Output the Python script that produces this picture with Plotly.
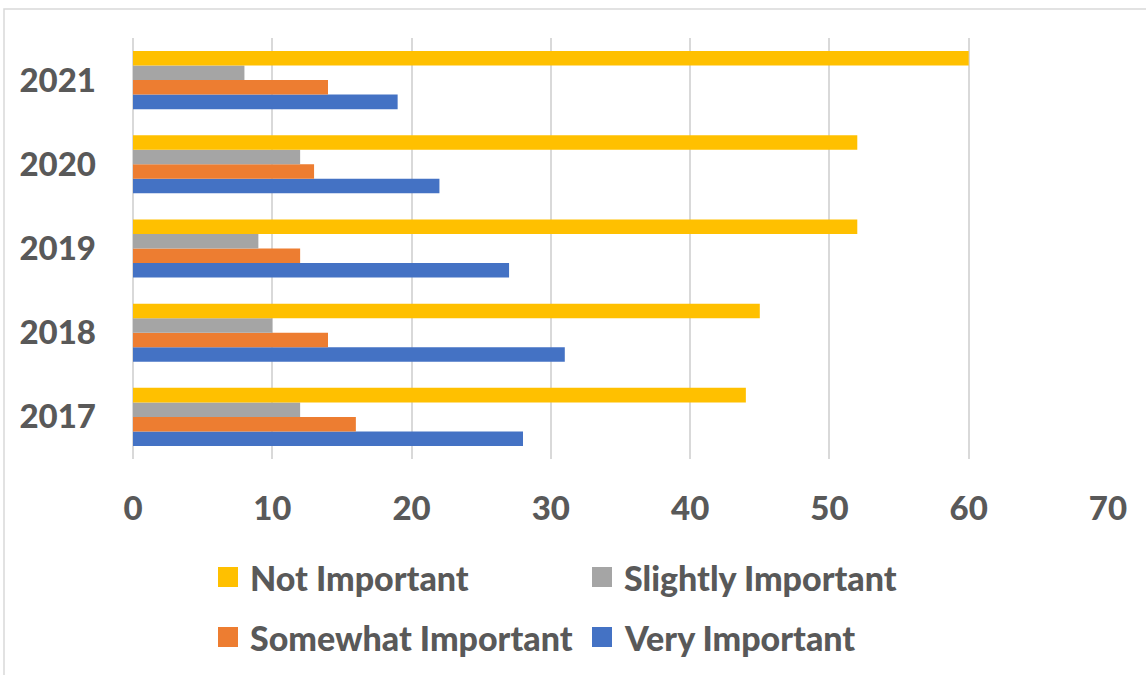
import plotly.graph_objects as go

# Survey results by year
years = ["2017", "2018", "2019", "2020", "2021"]
series_names = ["Very Important", "Somewhat Important", "Slightly Important", "Not Important"]
very_important = [28, 31, 27, 22, 19]
somewhat_important = [16, 14, 12, 13, 14]
slightly_important = [12, 10, 9, 12, 8]
not_important = [44, 45, 52, 52, 60]
x_ticks = [0, 10, 20, 30, 40, 50, 60, 70]

colors = {
    "Not Important": "#FFC000",
    "Slightly Important": "#A5A5A5",
    "Somewhat Important": "#ED7D31",
    "Very Important": "#4472C4",
}
values = {
    "Very Important": very_important,
    "Somewhat Important": somewhat_important,
    "Slightly Important": slightly_important,
    "Not Important": not_important,
}

W, H = 1146, 675
ML, MR, MT, MB = 133, 38, 38, 216
PW, PH = W - ML - MR, H - MT - MB
FONT = "Lato"
TEXT = "#595959"


def px_x(px):
    return (px - ML) / PW


def px_y(py):
    return (H - MB - py) / PH


fig = go.Figure()
for name in series_names:
    fig.add_trace(go.Bar(
        y=years, x=values[name], name=name, orientation="h",
        marker=dict(color=colors[name], line=dict(width=0)),
        showlegend=False,
    ))

# Legend drawn as colour swatches with labels, two per row
legend_rows = [
    [("Not Important", 218, 577), ("Slightly Important", 592, 577)],
    [("Somewhat Important", 218, 637), ("Very Important", 592, 637)],
]
for row in legend_rows:
    for name, sx, cy in row:
        fig.add_shape(type="rect", xref="paper", yref="paper",
                      x0=px_x(sx), x1=px_x(sx + 20),
                      y0=px_y(cy + 10), y1=px_y(cy - 10),
                      fillcolor=colors[name], line=dict(width=0))
        fig.add_annotation(xref="paper", yref="paper",
                           x=px_x(sx + 30), y=px_y(cy),
                           xanchor="left", yanchor="middle",
                           text=name, showarrow=False,
                           font=dict(family=FONT, size=34, color=TEXT, weight=900))

# Outer chart border
fig.add_shape(type="rect", xref="paper", yref="paper",
              x0=px_x(4), x1=px_x(W + 5), y0=px_y(H + 5), y1=px_y(9),
              line=dict(color="#D9D9D9", width=1.5), fillcolor="rgba(0,0,0,0)")

fig.update_layout(
    width=W, height=H,
    margin=dict(l=ML, r=MR, t=MT, b=MB),
    paper_bgcolor="white", plot_bgcolor="white",
    barmode="group", bargap=0.31, bargroupgap=0,
    font=dict(family=FONT, color=TEXT),
    showlegend=False,
)
fig.update_xaxes(
    range=[0, 70], tickvals=x_ticks,
    showgrid=True, gridcolor="#D9D9D9", gridwidth=1.5,
    zeroline=True, zerolinecolor="#D9D9D9", zerolinewidth=1.5,
    showline=False, ticks="", ticklabelstandoff=27,
    tickfont=dict(family=FONT, size=33, color=TEXT, weight=900),
)
fig.update_yaxes(
    type="category", categoryorder="array", categoryarray=years,
    showgrid=False, zeroline=False, showline=False, ticks="",
    ticklabelstandoff=36,
    tickfont=dict(family=FONT, size=33, color=TEXT, weight=900),
)

fig.write_html("out.html")
